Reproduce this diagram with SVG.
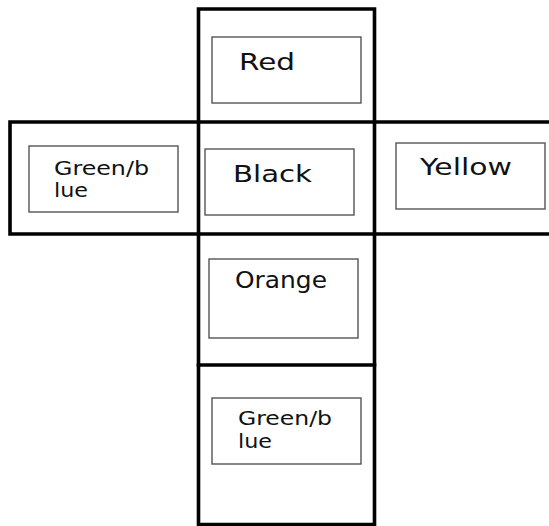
<svg xmlns="http://www.w3.org/2000/svg" width="549" height="526" viewBox="0 0 549 526">
  <style>
    .cell { fill: none; stroke: #000; stroke-width: 3.6; stroke-linecap: square; }
    .box { fill: #fff; stroke: #555; stroke-width: 1.4; }
    .lbl { font-family: "DejaVu Sans", "Liberation Sans", sans-serif; fill: #111; }
    .big { font-size: 23px; }
    .small { font-size: 20px; }
  </style>
  <rect width="549" height="526" fill="#fff"/>

  <!-- cube net: outer face cells -->
  <g id="connectors">
    <path class="cell" d="M198.5 9 H374.5 V524.5 H198.5 Z"/>
    <path class="cell" d="M549 122 H10 V234 H549"/>
    <path class="cell" d="M198.5 365 H374.5"/>
  </g>

  <g id="face-top">
    <rect class="box" x="212" y="37" width="149" height="66"/>
    <text class="lbl big" x="239" y="70" textLength="56" lengthAdjust="spacingAndGlyphs">Red</text>
  </g>

  <g id="face-left">
    <rect class="box" x="29" y="146" width="149" height="66"/>
    <text class="lbl small" x="54" y="175" textLength="95" lengthAdjust="spacingAndGlyphs">Green/b</text>
    <text class="lbl small" x="54" y="197" textLength="34" lengthAdjust="spacingAndGlyphs">lue</text>
  </g>

  <g id="face-center">
    <rect class="box" x="205" y="149" width="149" height="66"/>
    <text class="lbl big" x="233" y="182" textLength="79" lengthAdjust="spacingAndGlyphs">Black</text>
  </g>

  <g id="face-right">
    <rect class="box" x="396" y="143" width="149" height="66"/>
    <text class="lbl big" x="420" y="175" textLength="92" lengthAdjust="spacingAndGlyphs">Yellow</text>
  </g>

  <g id="face-below">
    <rect class="box" x="209" y="259" width="149" height="79"/>
    <text class="lbl big" x="235" y="288" textLength="92" lengthAdjust="spacingAndGlyphs">Orange</text>
  </g>

  <g id="face-bottom">
    <rect class="box" x="212" y="398" width="149" height="66"/>
    <text class="lbl small" x="238" y="425" textLength="94" lengthAdjust="spacingAndGlyphs">Green/b</text>
    <text class="lbl small" x="238" y="448" textLength="34" lengthAdjust="spacingAndGlyphs">lue</text>
  </g>
</svg>
